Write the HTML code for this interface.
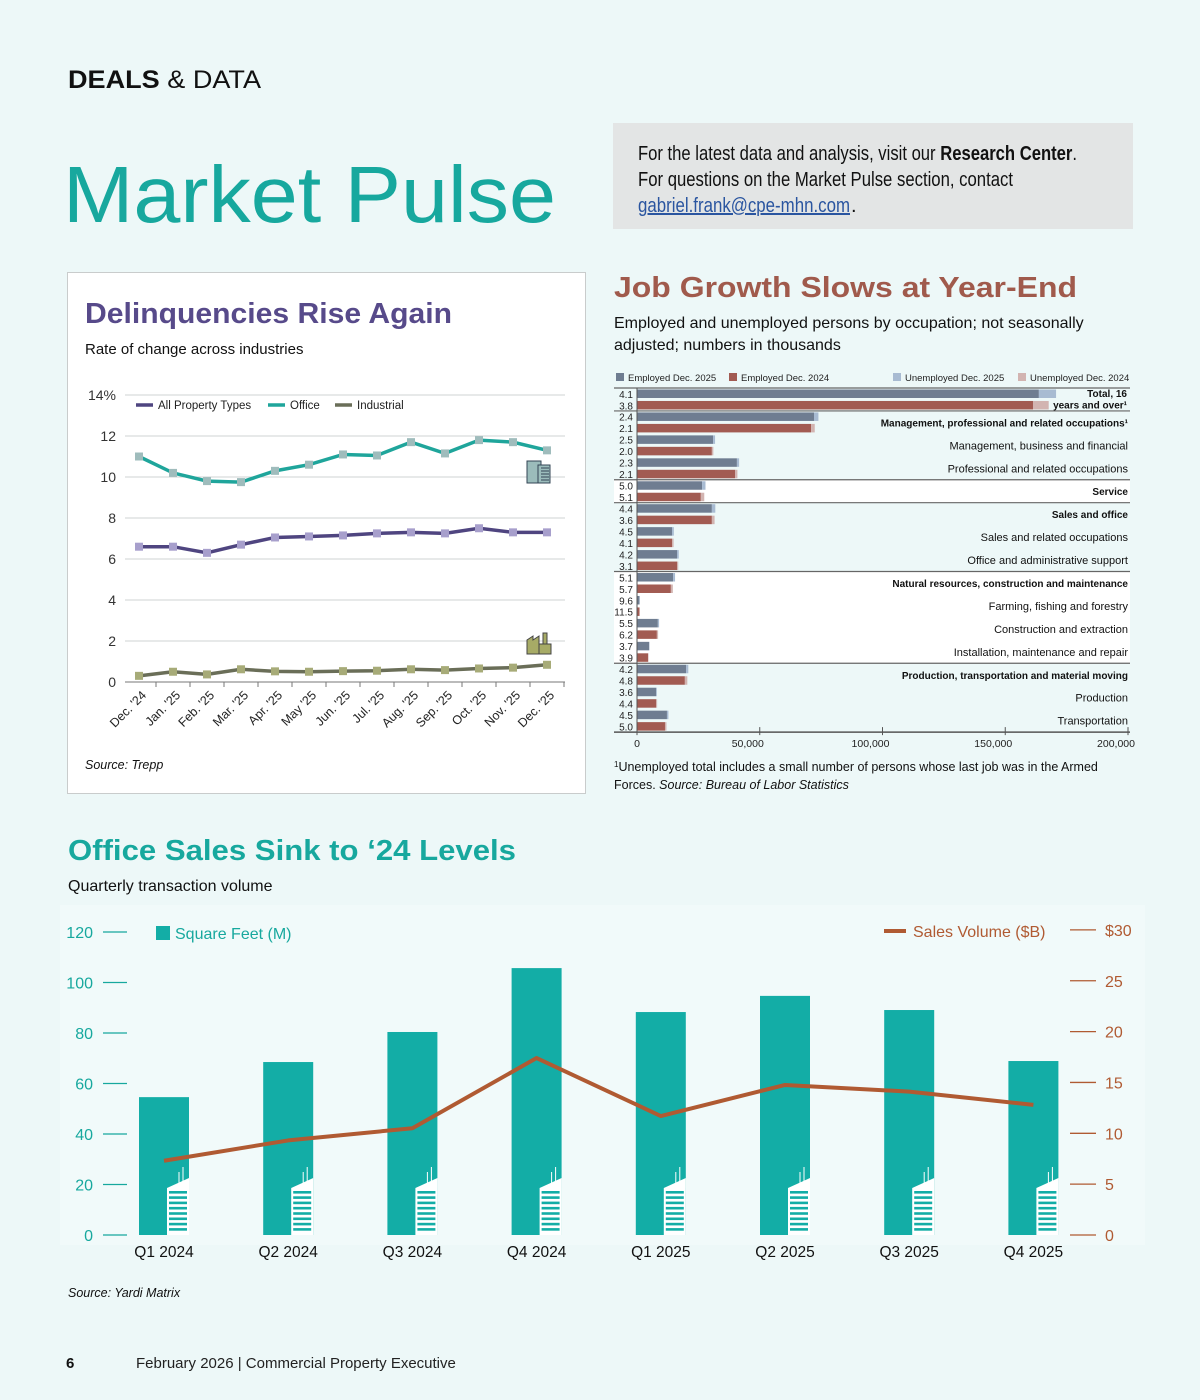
<!DOCTYPE html>
<html><head><meta charset="utf-8"><style>
html,body{margin:0;padding:0;background:#edf8f8;}
svg{display:block;font-family:"Liberation Sans",sans-serif;}
</style></head><body>
<svg id="page" width="1200" height="1400" viewBox="0 0 1200 1400" xmlns="http://www.w3.org/2000/svg">
<rect x="0" y="0" width="1200" height="1400" fill="#edf8f8"/>
<text x="68" y="88" font-size="25" fill="#111" textLength="193" lengthAdjust="spacingAndGlyphs"><tspan font-weight="bold">DEALS</tspan> &amp; DATA</text>
<text x="63" y="222" font-size="80" fill="#17a89e" textLength="493" lengthAdjust="spacingAndGlyphs">Market Pulse</text>
<rect x="613" y="123" width="520" height="106" fill="#e3e5e5"/>
<g font-size="20" fill="#111">
<text x="638" y="160" textLength="439" lengthAdjust="spacingAndGlyphs">For the latest data and analysis, visit our <tspan font-weight="bold">Research Center</tspan>.</text>
<text x="638" y="186" textLength="375" lengthAdjust="spacingAndGlyphs">For questions on the Market Pulse section, contact</text>
<text x="638" y="212" fill="#2a55a0" text-decoration="underline" textLength="212" lengthAdjust="spacingAndGlyphs">gabriel.frank@cpe-mhn.com</text><text x="851" y="212">.</text>
</g>

<rect x="67.5" y="272.5" width="518" height="521" fill="#ffffff" stroke="#c9cccc"/>
<text x="85" y="323" font-size="29" font-weight="bold" fill="#574a8a" textLength="367" lengthAdjust="spacingAndGlyphs">Delinquencies Rise Again</text>
<text x="85" y="354" font-size="15" fill="#111">Rate of change across industries</text>
<text x="85" y="769" font-size="12.5" font-style="italic" fill="#111">Source: Trepp</text>
<g id="delq"></g>

<text x="614" y="297" font-size="29" font-weight="bold" fill="#a05a4c" textLength="463" lengthAdjust="spacingAndGlyphs">Job Growth Slows at Year-End</text>
<text x="614" y="328" font-size="16" fill="#111">Employed and unemployed persons by occupation; not seasonally</text>
<text x="614" y="350" font-size="16" fill="#111">adjusted; numbers in thousands</text>
<g id="jobs"></g>
<text x="614" y="771" font-size="12.5" fill="#111"><tspan font-size="8" dy="-4">1</tspan><tspan dy="4">Unemployed total includes a small number of persons whose last job was in the Armed</tspan></text>
<text x="614" y="789" font-size="12.5" fill="#111">Forces. <tspan font-style="italic">Source: Bureau of Labor Statistics</tspan></text>

<rect x="60" y="905" width="1085" height="340" fill="#f1fafa"/>
<text x="68" y="860" font-size="29" font-weight="bold" fill="#17a89e" textLength="448" lengthAdjust="spacingAndGlyphs">Office Sales Sink to ‘24 Levels</text>
<text x="68" y="891" font-size="16" fill="#111">Quarterly transaction volume</text>
<g id="sales"></g>
<text x="68" y="1297" font-size="12.5" font-style="italic" fill="#111">Source: Yardi Matrix</text>

<text x="66" y="1368" font-size="15" font-weight="bold" fill="#111">6</text>
<text x="136" y="1368" font-size="15" fill="#222">February 2026  |  Commercial Property Executive</text>
</svg>
<script>
const NS="http://www.w3.org/2000/svg";
function mk(tag,attrs,parent){const e=document.createElementNS(NS,tag);for(const k in attrs)e.setAttribute(k,attrs[k]);parent.appendChild(e);return e;}

const months=["Dec. '24","Jan. '25","Feb. '25","Mar. '25","Apr. '25","May '25","Jun. '25","Jul. '25","Aug. '25","Sep. '25","Oct. '25","Nov. '25","Dec. '25"];
const allTypes=[6.6,6.6,6.3,6.7,7.05,7.1,7.15,7.25,7.3,7.25,7.5,7.3,7.3];
const office=[11.0,10.2,9.8,9.75,10.3,10.6,11.1,11.05,11.7,11.15,11.8,11.7,11.3];
const industrial=[0.3,0.5,0.37,0.62,0.52,0.5,0.53,0.55,0.62,0.58,0.66,0.7,0.84];
const delqTicks=[0,2,4,6,8,10,12,14];

const occupations=["Total, 16 years and over","Management, professional and related occupations","Management, business and financial","Professional and related occupations","Service","Sales and office","Sales and related occupations","Office and administrative support","Natural resources, construction and maintenance","Farming, fishing and forestry","Construction and extraction","Installation, maintenance and repair","Production, transportation and material moving","Production","Transportation"];
const boldOcc=[true,true,false,false,true,true,false,false,true,false,false,false,true,false,false];
const employed2025=[163700,72100,31000,40700,26500,30500,14300,16300,14700,1000,8500,4900,20000,7800,12200];
const employed2024=[161300,70900,30500,40000,26000,30500,14300,16300,13800,1000,8100,4500,19500,7800,11400];
const unemployed2025=[7000,1800,800,900,1400,1400,700,700,800,100,500,200,900,300,600];
const unemployed2024=[6400,1500,600,900,1400,1100,600,500,800,100,500,200,1000,400,600];
const rate2025=["4.1","2.4","2.5","2.3","5.0","4.4","4.5","4.2","5.1","9.6","5.5","3.7","4.2","3.6","4.5"];
const rate2024=["3.8","2.1","2.0","2.1","5.1","3.6","4.1","3.1","5.7","11.5","6.2","3.9","4.8","4.4","5.0"];
const jobTicks=[0,50000,100000,150000,200000];
const jobTickLabels=["0","50,000","100,000","150,000","200,000"];

const quarters=["Q1 2024","Q2 2024","Q3 2024","Q4 2024","Q1 2025","Q2 2025","Q3 2025","Q4 2025"];
const squareFeet=[54.6,68.5,80.4,105.7,88.3,94.7,89.1,68.9];
const salesVolume=[7.3,9.3,10.5,17.4,11.7,14.75,14.1,12.8];
const leftTicks=[0,20,40,60,80,100,120];
const rightTicks=[0,5,10,15,20,25,30];
const rightTickLabels=["0","5","10","15","20","25","$30"];

(function(){
const g=document.getElementById('delq');
const y=v=>682-v*20.5, x=i=>139+i*34;
delqTicks.forEach(t=>{
  const l=mk('line',{x1:125,x2:565,y1:y(t),y2:y(t),stroke:t===0?'#777':'#cfd3d3','stroke-width':1},g);
  
  
  const tx=mk('text',{x:116,y:y(t)+5,'font-size':14,fill:'#333','text-anchor':'end'},g);
  tx.textContent=t===14?'14%':t;
  
  
});
months.forEach((m,i)=>{
  const tk=mk('line',{x1:x(i)+17,x2:x(i)+17,y1:682,y2:687,stroke:'#777'},g);
  
  
  const tx=mk('text',{x:x(i)+8,y:696,'font-size':12.5,fill:'#222','text-anchor':'end',transform:`rotate(-45 ${x(i)+8} 696)`},g);
  tx.textContent=m;
  
  
});
const series=[[office,'#1fa59b','#9fbcbc','office'],[allTypes,'#4f4580','#a79fcc','all-property-types'],[industrial,'#6a6e58','#a7ab78','industrial']];
series.forEach(([d,c,mc,n])=>{
  const p=mk('polyline',{points:d.map((v,i)=>x(i)+','+y(v)).join(' '),fill:'none',stroke:c,'stroke-width':3.5},g);
  
  
  d.forEach((v,i)=>{
    const r=mk('rect',{x:x(i)-4,y:y(v)-4,width:8,height:8,fill:mc},g);
    
    
  });
});
const leg=[['All Property Types','#4f4580',136],['Office','#1fa59b',268],['Industrial','#6a6e58',335]];
leg.forEach(([t,c,lx])=>{
  const l=mk('line',{x1:lx,x2:lx+17,y1:405,y2:405,stroke:c,'stroke-width':3.5},g);
  
  
  const tx=mk('text',{x:lx+22,y:409,'font-size':11.5,fill:'#222'},g);
  tx.textContent=t;
  
  
});
const oi=mk('g',{},g);


mk('rect',{x:527,y:461,width:14,height:22,fill:'#9bbcbb',stroke:'#345',"stroke-width":1},oi);
mk('rect',{x:538,y:465,width:12,height:18,fill:'#9bbcbb',stroke:'#345',"stroke-width":1},oi);
for(let k=0;k<5;k++)mk('line',{x1:541,x2:549,y1:468+k*3,y2:468+k*3,stroke:'#345'},oi);
const ii=mk('g',{},g);


mk('path',{d:'M527 654 V640 L533 636 V640 L539 636 V654 Z',fill:'#a7ab66',stroke:'#444'},ii);
mk('rect',{x:539,y:644,width:12,height:10,fill:'#a7ab66',stroke:'#444'},ii);
mk('rect',{x:543,y:633,width:4,height:11,fill:'#a7ab66',stroke:'#444'},ii);
})();

(function(){
const g=document.getElementById('jobs');
const X=v=>637+v/200000*491;
const top=388,rh=11.47,nR=occupations.length*2;
const ry=i=>top+i*rh;
const legItems=[['Employed Dec. 2025','#6f7d91',616],['Employed Dec. 2024','#a25b52',729],['Unemployed Dec. 2025','#a8bbd2',893],['Unemployed Dec. 2024','#d2b4b1',1018]];
legItems.forEach(([t,c,lx])=>{
  const r=mk('rect',{x:lx,y:373,width:8,height:8,fill:c},g);
  
  
  const tx=mk('text',{x:lx+12,y:381,'font-size':9.5,fill:'#222'},g);
  tx.textContent=t;
  
  
});
const bands=[[4,5,'#ffffff'],[8,12,'#ffffff']];
bands.forEach(([a,b,c])=>{const r=mk('rect',{x:614,y:ry(a*2),width:516,height:ry(b*2)-ry(a*2),fill:c},g);
  
  });
[0,1,4,5,8,12].forEach(k=>{
  const l=mk('line',{x1:614,x2:1130,y1:ry(k*2),y2:ry(k*2),stroke:'#666','stroke-width':1.2},g);
  
  
});
occupations.forEach((o,k)=>{
  [[employed2025,unemployed2025,rate2025,'#6f7d91','#a8bbd2','2025'],[employed2024,unemployed2024,rate2024,'#a25b52','#d2b4b1','2024']].forEach(([e,u,rt,c1,c2,yr],j)=>{
    const yy=ry(k*2+j)+1.5;
    const b=mk('rect',{x:X(0),y:yy,width:X(e[k])-X(0),height:8.5,fill:c1},g);
    
    
    const ub=mk('rect',{x:X(e[k]),y:yy,width:X(e[k]+u[k])-X(e[k]),height:8.5,fill:c2},g);
    
    
    const t=mk('text',{x:633,y:yy+8.3,'font-size':10,fill:'#222','text-anchor':'end'},g);
    t.textContent=rt[k];
    
    
  });
  const cy=ry(k*2+1)+4;
  if(k===0){
    ['Total, 16','years and over¹'].forEach((s,q)=>{
      const t=mk('text',{x:1127,y:ry(q)+9,'font-size':10,'font-weight':'bold',fill:'#111','text-anchor':'end'},g);
      t.textContent=s;
      
      
    });
  } else {
    const t=mk('text',{x:1128,y:cy,'font-size':boldOcc[k]?10:11,'font-weight':boldOcc[k]?'bold':'normal',fill:'#111','text-anchor':'end'},g);
    t.textContent=o+(k===1?'¹':'');
    
    
  }
});
const ax=mk('line',{x1:614,x2:1130,y1:ry(nR),y2:ry(nR),stroke:'#555','stroke-width':1.5},g);


const vax=mk('line',{x1:637,x2:637,y1:top,y2:ry(nR),stroke:'#555'},g);


jobTicks.forEach((t,i)=>{
  const l=mk('line',{x1:X(t),x2:X(t),y1:ry(nR)-5,y2:ry(nR)+3,stroke:'#555'},g);
  
  
  const tx=mk('text',{x:i===0?X(t):X(t)-12,y:747,'font-size':10.5,fill:'#222','text-anchor':'middle'},g);
  tx.textContent=jobTickLabels[i];
  
  
});
})();

(function(){
const g=document.getElementById('sales');
const yL=v=>1235-v*2.525, yR=v=>1235-v*10.17, x=i=>164+i*124.2;
leftTicks.forEach(t=>{
  const l=mk('line',{x1:103,x2:127,y1:yL(t),y2:yL(t),stroke:'#17a89e','stroke-width':1.3},g);
  
  
  const tx=mk('text',{x:93,y:yL(t)+6,'font-size':16,fill:'#17a89e','text-anchor':'end'},g);
  tx.textContent=t;
  
  
});
rightTicks.forEach((t,i)=>{
  const l=mk('line',{x1:1070,x2:1096,y1:yR(t),y2:yR(t),stroke:'#b05a32','stroke-width':1.3},g);
  
  
  const tx=mk('text',{x:1105,y:yR(t)+6,'font-size':16,fill:'#b05a32'},g);
  tx.textContent=rightTickLabels[i];
  
  
});
quarters.forEach((q,i)=>{
  const bx=x(i)-25,by=yL(squareFeet[i]);
  const b=mk('rect',{x:bx,y:by,width:50,height:1235-by,fill:'#13ada6'},g);
  
  
  const ic=mk('g',{},g);
  
  
  mk('path',{d:`M${bx+28} 1235 V1188 L${bx+50} 1178 V1235 Z`,fill:'#ffffff'},ic);
  mk('line',{x1:bx+40,x2:bx+40,y1:1184,y2:1172,stroke:'#fff'},ic);
  mk('line',{x1:bx+44,x2:bx+44,y1:1182,y2:1167,stroke:'#fff'},ic);
  for(let k=0;k<8;k++)mk('rect',{x:bx+30,y:1191+k*5.3,width:18,height:2.6,fill:'#13ada6'},ic);
  const tx=mk('text',{x:x(i),y:1257,'font-size':15.5,fill:'#111','text-anchor':'middle'},g);
  tx.textContent=q;
  
  
});
const ln=mk('polyline',{points:salesVolume.map((v,i)=>x(i)+','+yR(v)).join(' '),fill:'none',stroke:'#b05a32','stroke-width':4,'stroke-linejoin':'round'},g);


const s1=mk('rect',{x:156,y:926,width:14,height:14,fill:'#13ada6'},g);


const l1=mk('text',{x:175,y:939,'font-size':16,fill:'#17a89e'},g);
l1.textContent='Square Feet (M)';


const s2=mk('line',{x1:884,x2:906,y1:931,y2:931,stroke:'#b05a32','stroke-width':4},g);


const l2=mk('text',{x:913,y:937,'font-size':16,fill:'#b05a32'},g);
l2.textContent='Sales Volume ($B)';


})();
</script>
</body></html>
